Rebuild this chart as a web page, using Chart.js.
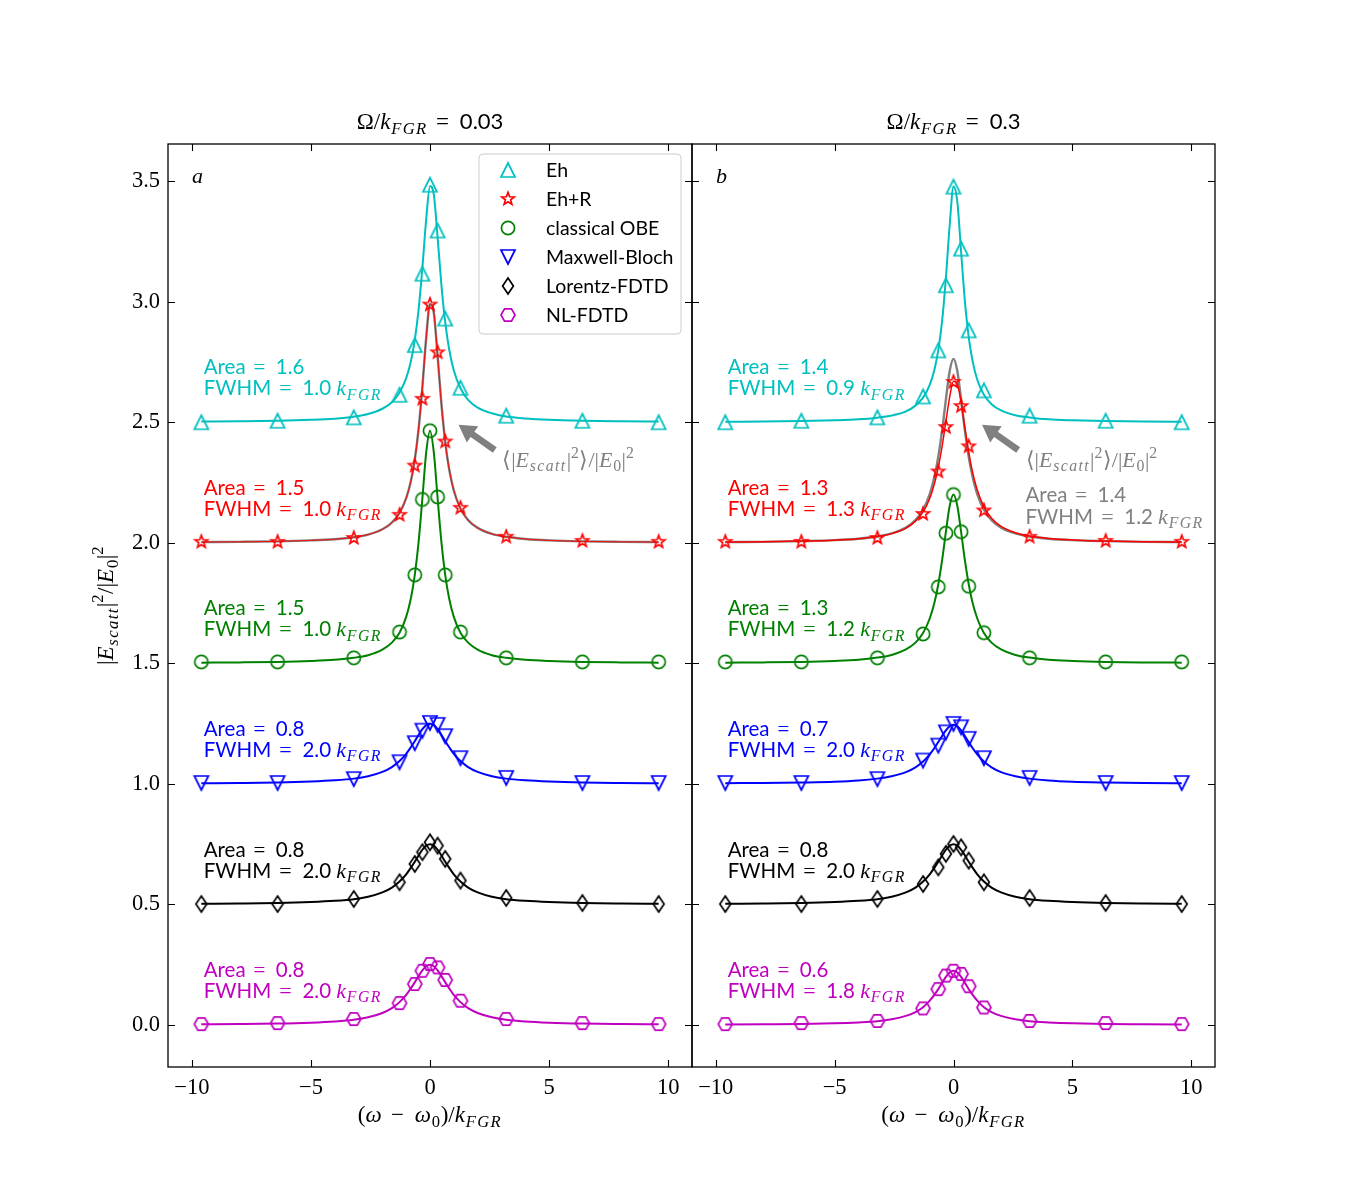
<!DOCTYPE html>
<html><head><meta charset="utf-8">
<script src="https://cdn.jsdelivr.net/npm/chart.js@4.4.0/dist/chart.umd.min.js"></script>
<style>
html,body{margin:0;padding:0;background:#fff;}
#wrap{position:relative;width:1350px;height:1200px;}
canvas{position:absolute;left:0;top:0;}
</style></head><body>
<div id="wrap"><canvas id="cA" width="1350" height="1200"></canvas><canvas id="cB" width="1350" height="1200"></canvas></div>
<script>
// ---------- data ----------
const xTicks = [-10, -5, 0, 5, 10];
const yTicks = [0, 0.5, 1, 1.5, 2, 2.5, 3, 3.5];
const legendLabels = ['Eh', 'Eh+R', 'classical OBE', 'Maxwell-Bloch', 'Lorentz-FDTD', 'NL-FDTD'];

// marker abscissae
const xMark = [-9.6, -6.4, -3.2, -1.28, -0.64, -0.32, 0, 0.32, 0.64, 1.28, 3.2, 6.4, 9.6];
// panel a markers
const mkEhA  = [2.50, 2.506, 2.52, 2.614, 2.82, 3.116, 3.485, 3.295, 2.93, 2.643, 2.527, 2.506, 2.50];
const mkEhRA = [2.004, 2.004, 2.02, 2.116, 2.32, 2.597, 2.988, 2.79, 2.42, 2.145, 2.025, 2.008, 2.004];
const mkOBEA = [1.506, 1.506, 1.523, 1.63, 1.867, 2.18, 2.465, 2.19, 1.867, 1.63, 1.523, 1.506, 1.506];
const mkMBA  = [1.004, 1.004, 1.02, 1.09, 1.169, 1.221, 1.253, 1.245, 1.198, 1.107, 1.025, 1.004, 1.004];
const mkLFA  = [0.502, 0.502, 0.523, 0.592, 0.668, 0.717, 0.758, 0.744, 0.689, 0.599, 0.527, 0.506, 0.502];
const mkNLA  = [0.004, 0.008, 0.025, 0.091, 0.17, 0.225, 0.253, 0.239, 0.187, 0.101, 0.025, 0.008, 0.004];
// panel b markers
const mkEhB  = [2.50, 2.506, 2.52, 2.607, 2.798, 3.068, 3.477, 3.22, 2.881, 2.632, 2.527, 2.506, 2.50];
const mkEhRB = [2.004, 2.004, 2.02, 2.12, 2.296, 2.48, 2.667, 2.567, 2.40, 2.134, 2.025, 2.008, 2.004];
const mkOBEB = [1.506, 1.506, 1.523, 1.622, 1.817, 2.04, 2.2, 2.046, 1.82, 1.627, 1.523, 1.506, 1.506];
const mkMBB  = [1.004, 1.004, 1.02, 1.097, 1.159, 1.214, 1.249, 1.235, 1.187, 1.107, 1.025, 1.004, 1.004];
const mkLFB  = [0.502, 0.502, 0.523, 0.585, 0.654, 0.71, 0.751, 0.737, 0.682, 0.592, 0.527, 0.506, 0.502];
const mkNLB  = [0.004, 0.008, 0.017, 0.069, 0.149, 0.205, 0.225, 0.212, 0.161, 0.073, 0.017, 0.008, 0.004];

// curve abscissae
const xLine = [-9.6,-8,-6.4,-5,-4,-3.2,-2.6,-2,-1.6,-1.28,-1,-0.8,-0.64,-0.48,-0.32,-0.16,0,0.16,0.32,0.48,0.64,0.8,1,1.28,1.6,2,2.6,3.2,4,5,6.4,8,9.6];
// panel a curves
const lnEhA  = [2.503,2.504,2.506,2.510,2.515,2.523,2.534,2.556,2.583,2.623,2.683,2.754,2.841,2.966,3.140,3.342,3.480,3.444,3.266,3.069,2.914,2.805,2.715,2.641,2.593,2.561,2.537,2.524,2.516,2.510,2.506,2.504,2.503];
const lnEhRA = [2.003,2.004,2.006,2.010,2.015,2.023,2.034,2.056,2.084,2.124,2.185,2.257,2.344,2.471,2.646,2.850,2.990,2.954,2.774,2.575,2.418,2.308,2.217,2.142,2.094,2.062,2.037,2.025,2.016,2.010,2.006,2.004,2.003];
const lnAvgA = [2.003,2.004,2.006,2.010,2.015,2.023,2.034,2.056,2.084,2.124,2.185,2.257,2.344,2.471,2.646,2.850,2.990,2.954,2.774,2.575,2.418,2.308,2.217,2.142,2.094,2.062,2.037,2.025,2.016,2.010,2.006,2.004,2.003];
const lnOBEA = [1.503,1.504,1.506,1.510,1.515,1.523,1.534,1.557,1.586,1.627,1.693,1.771,1.866,2.002,2.184,2.375,2.465,2.375,2.184,2.002,1.866,1.771,1.693,1.627,1.586,1.557,1.534,1.523,1.515,1.510,1.506,1.504,1.503];
const lnMBA  = [1.003,1.004,1.006,1.010,1.015,1.022,1.032,1.050,1.070,1.095,1.125,1.153,1.177,1.203,1.227,1.244,1.250,1.244,1.227,1.203,1.177,1.153,1.125,1.095,1.070,1.050,1.032,1.022,1.015,1.010,1.006,1.004,1.003];
const lnLFA  = [0.503,0.504,0.506,0.510,0.515,0.522,0.532,0.550,0.570,0.595,0.625,0.653,0.677,0.703,0.727,0.744,0.750,0.744,0.727,0.703,0.677,0.653,0.625,0.595,0.570,0.550,0.532,0.522,0.515,0.510,0.506,0.504,0.503];
const lnNLA  = [0.003,0.004,0.006,0.010,0.015,0.022,0.032,0.050,0.070,0.095,0.125,0.153,0.177,0.203,0.227,0.244,0.250,0.244,0.227,0.203,0.177,0.153,0.125,0.095,0.070,0.050,0.032,0.022,0.015,0.010,0.006,0.004,0.003];
// panel b curves
const lnEhB  = [2.502,2.503,2.505,2.508,2.512,2.519,2.528,2.545,2.569,2.602,2.655,2.719,2.799,2.919,3.098,3.318,3.478,3.415,3.207,3.001,2.853,2.755,2.676,2.614,2.575,2.549,2.529,2.520,2.512,2.508,2.505,2.503,2.502];
const lnEhRB = [2.003,2.004,2.007,2.011,2.017,2.026,2.038,2.061,2.090,2.128,2.184,2.246,2.313,2.400,2.503,2.605,2.670,2.659,2.582,2.477,2.376,2.294,2.219,2.149,2.102,2.068,2.042,2.028,2.018,2.012,2.007,2.004,2.003];
const lnAvgB = [2.003,2.004,2.007,2.011,2.017,2.026,2.039,2.063,2.094,2.137,2.202,2.275,2.357,2.465,2.594,2.713,2.763,2.713,2.594,2.465,2.357,2.275,2.202,2.137,2.094,2.063,2.039,2.026,2.017,2.011,2.007,2.004,2.003];
const lnOBEB = [1.503,1.504,1.506,1.510,1.515,1.524,1.535,1.558,1.586,1.626,1.686,1.752,1.828,1.927,2.045,2.154,2.200,2.154,2.045,1.927,1.828,1.752,1.686,1.626,1.586,1.558,1.535,1.524,1.515,1.510,1.506,1.504,1.503];
const lnMBB  = [1.003,1.004,1.006,1.009,1.014,1.022,1.032,1.049,1.069,1.093,1.123,1.149,1.174,1.199,1.222,1.239,1.245,1.239,1.222,1.199,1.174,1.149,1.123,1.093,1.069,1.049,1.032,1.022,1.014,1.009,1.006,1.004,1.003];
const lnLFB  = [0.503,0.504,0.506,0.510,0.515,0.522,0.532,0.550,0.570,0.595,0.625,0.653,0.677,0.703,0.727,0.744,0.750,0.744,0.727,0.703,0.677,0.653,0.625,0.595,0.570,0.550,0.532,0.522,0.515,0.510,0.506,0.504,0.503];
const lnNLB  = [0.002,0.003,0.004,0.007,0.011,0.016,0.024,0.038,0.054,0.074,0.101,0.126,0.149,0.175,0.200,0.218,0.225,0.218,0.200,0.175,0.149,0.126,0.101,0.074,0.054,0.038,0.024,0.016,0.011,0.007,0.004,0.003,0.002];

// annotation values
const baseLevels = [2.5, 2.0, 1.5, 1.0, 0.5, 0.0];
const areaA = ['1.6', '1.5', '1.5', '0.8', '0.8', '0.8'];
const fwhmA = ['1.0', '1.0', '1.0', '2.0', '2.0', '2.0'];
const areaB = ['1.4', '1.3', '1.3', '0.7', '0.8', '0.6'];
const fwhmB = ['0.9', '1.3', '1.2', '2.0', '2.0', '1.8'];
const avgAreaB = '1.4', avgFwhmB = '1.2';

// ---------- styles ----------
const COL = ['#00bfbf', '#ff0000', '#008000', '#0000ff', '#000000', '#bf00bf'];
const GRAY = '#808080';
const SHAPES = ['tu', 'star', 'circ', 'td', 'dia', 'hex'];
const SANS = 'Lato', SERIF = '"Liberation Serif"';

function markerCanvas(shape, color) {
  const S = 24, c = document.createElement('canvas');
  c.width = S; c.height = S;
  const g = c.getContext('2d');
  g.strokeStyle = color; g.lineWidth = 1.7; g.lineJoin = 'miter';
  const m = S / 2;
  g.beginPath();
  if (shape === 'tu') { const r = 7; g.moveTo(m, m - r); g.lineTo(m + r, m + r); g.lineTo(m - r, m + r); g.closePath(); }
  else if (shape === 'td') { const r = 7; g.moveTo(m, m + r); g.lineTo(m + r, m - r); g.lineTo(m - r, m - r); g.closePath(); }
  else if (shape === 'circ') { g.arc(m, m, 6.6, 0, Math.PI * 2); }
  else if (shape === 'dia') { g.moveTo(m, m - 8); g.lineTo(m + 5.4, m); g.lineTo(m, m + 8); g.lineTo(m - 5.4, m); g.closePath(); }
  else if (shape === 'hex') { const r = 7; for (let i = 0; i < 6; i++) { const a = Math.PI / 3 * i; const px = m + r * Math.cos(a), py = m + r * Math.sin(a); i ? g.lineTo(px, py) : g.moveTo(px, py); } g.closePath(); }
  else if (shape === 'star') { const R = 6.6, r = R * 0.42; for (let i = 0; i < 10; i++) { const a = -Math.PI / 2 + Math.PI / 5 * i; const rr = i % 2 ? r : R; const px = m + rr * Math.cos(a), py = m + rr * Math.sin(a); i ? g.lineTo(px, py) : g.moveTo(px, py); } g.closePath(); }
  g.stroke();
  return c;
}
const MARKERS = SHAPES.map((s, i) => markerCanvas(s, COL[i]));

// rich text: style codes -> font / baseline shift / letter spacing
function segStyle(st, S, T) {
  const sm = Math.round(S * 0.72 * 10) / 10;
  switch (st) {
    case 's':  return { font: T + 'px ' + SANS, dy: 0, ls: 0 };
    case 'r':  return { font: S + 'px ' + SERIF, dy: 0, ls: 0 };
    case 'e':  return { font: S + 'px ' + SERIF, dy: 0, ls: 2.6 };
    case 'i':  return { font: 'italic ' + S + 'px ' + SERIF, dy: 0, ls: 0.8 };
    case 'is': return { font: 'italic ' + sm + 'px ' + SERIF, dy: S * 0.2, ls: 1.4 };
    case 'rs': return { font: sm + 'px ' + SERIF, dy: S * 0.2, ls: 0.5 };
    case 'rp': return { font: sm + 'px ' + SERIF, dy: -S * 0.42, ls: 0.5 };
  }
}
function segWidth(ctx, t, s) { ctx.font = s.font; if (!s.ls) return ctx.measureText(t).width; let w = 0; for (const ch of t) w += ctx.measureText(ch).width + s.ls; return w; }
function drawRich(ctx, segs, x, y, align, S, color, T) {
  T = T || 21;
  ctx.save(); ctx.fillStyle = color; ctx.textBaseline = 'alphabetic'; ctx.textAlign = 'left';
  let w = 0;
  for (const [t, st] of segs) w += segWidth(ctx, t, segStyle(st, S, T));
  let cx = align === 'center' ? x - w / 2 : (align === 'right' ? x - w : x);
  for (const [t, st] of segs) {
    const s = segStyle(st, S, T); ctx.font = s.font;
    if (!s.ls) { ctx.fillText(t, cx, y + s.dy); cx += ctx.measureText(t).width; }
    else { for (const ch of t) { ctx.fillText(ch, cx, y + s.dy); cx += ctx.measureText(ch).width + s.ls; } }
  }
  ctx.restore();
}
function drawArrow(ctx, x1, y1, x2, y2) {
  const dx = x2 - x1, dy = y2 - y1, L = Math.hypot(dx, dy), ux = dx / L, uy = dy / L, px = -uy, py = ux;
  const hl = 17, hw = 10, sw = 3.3;
  const bx = x2 - ux * hl, by = y2 - uy * hl;
  ctx.save(); ctx.fillStyle = GRAY;
  ctx.beginPath();
  ctx.moveTo(x1 + px * sw, y1 + py * sw); ctx.lineTo(bx + px * sw, by + py * sw);
  ctx.lineTo(bx + px * hw, by + py * hw); ctx.lineTo(x2, y2);
  ctx.lineTo(bx - px * hw, by - py * hw); ctx.lineTo(bx - px * sw, by - py * sw);
  ctx.lineTo(x1 - px * sw, y1 - py * sw); ctx.closePath(); ctx.fill();
  ctx.restore();
}

const avgLabel = [['⟨|', 'r'], ['E', 'i'], ['scatt', 'is'], ['|', 'r'], ['2', 'rp'], ['⟩/|', 'r'], ['E', 'i'], ['0', 'rs'], ['|', 'r'], ['2', 'rp']];
const kFGR = [['k', 'i'], ['FGR', 'is']];

function decoPlugin(P) {
  return {
    id: 'deco',
    afterDraw(chart) {
      const ctx = chart.ctx, a = chart.chartArea, xs = chart.scales.x, ys = chart.scales.y;
      ctx.save();
      // frame
      ctx.strokeStyle = '#000'; ctx.lineWidth = 1.3;
      ctx.strokeRect(a.left, a.top, a.right - a.left, a.bottom - a.top);
      // inward ticks
      ctx.lineWidth = 1.1; ctx.beginPath();
      for (const t of xs.ticks) { const px = Math.round(xs.getPixelForValue(t.value)) + 0.5; ctx.moveTo(px, a.bottom); ctx.lineTo(px, a.bottom - 7); ctx.moveTo(px, a.top); ctx.lineTo(px, a.top + 7); }
      for (const t of ys.ticks) { const py = Math.round(ys.getPixelForValue(t.value)) + 0.5; ctx.moveTo(a.left, py); ctx.lineTo(a.left + 7, py); ctx.moveTo(a.right, py); ctx.lineTo(a.right - 7, py); }
      ctx.stroke();
      const cxm = (a.left + a.right) / 2;
      // title
      drawRich(ctx, [['Ω/', 'r'], ...kFGR, [' = ', 'e'], [P.omega, 's']], cxm, a.top - 15, 'center', 23, '#000', 22);
      // x label
      drawRich(ctx, [['(', 'r'], ['ω', 'i'], [' − ', 'e'], ['ω', 'i'], ['0', 'rs'], [')/', 'r'], ...kFGR], cxm, a.bottom + 55, 'center', 23, '#000');
      // y label
      if (P.yLabel) {
        ctx.save(); ctx.translate(a.left - 55, (a.top + a.bottom) / 2); ctx.rotate(-Math.PI / 2);
        drawRich(ctx, [['|', 'r'], ['E', 'i'], ['scatt', 'is'], ['|', 'r'], ['2', 'rp'], ['/|', 'r'], ['E', 'i'], ['0', 'rs'], ['|', 'r'], ['2', 'rp']], 0, 0, 'center', 23, '#000');
        ctx.restore();
      }
      // panel letter
      drawRich(ctx, [[P.letter, 'i']], a.left + 24, a.top + 39, 'left', 22, '#000');
      // area / FWHM labels
      const tx = xs.getPixelForValue(-9.5);
      for (let i = 0; i < 6; i++) {
        const y1 = ys.getPixelForValue(baseLevels[i] + 0.23), y2 = ys.getPixelForValue(baseLevels[i] + 0.143);
        drawRich(ctx, [['Area', 's'], [' = ', 'e'], [P.area[i], 's']], tx, y1 + 7.5, 'left', 21, COL[i], 20.5);
        drawRich(ctx, [['FWHM', 's'], [' = ', 'e'], [P.fwhm[i] + ' ', 's'], ...kFGR], tx, y2 + 7.5, 'left', 22, COL[i], 20.5);
      }
      // average arrow + label
      drawArrow(ctx, xs.getPixelForValue(2.72), ys.getPixelForValue(2.385), xs.getPixelForValue(1.2), ys.getPixelForValue(2.49));
      const gx = xs.getPixelForValue(3.03);
      drawRich(ctx, avgLabel, gx, ys.getPixelForValue(2.344) + 7, 'left', 22, GRAY);
      if (P.avgArea) {
        drawRich(ctx, [['Area', 's'], [' = ', 'e'], [P.avgArea, 's']], gx, ys.getPixelForValue(2.2) + 7.5, 'left', 21, GRAY, 20.5);
        drawRich(ctx, [['FWHM', 's'], [' = ', 'e'], [P.avgFwhm + ' ', 's'], ...kFGR], gx, ys.getPixelForValue(2.11) + 7.5, 'left', 22, GRAY, 20.5);
      }
      // legend
      if (P.legend) {
        const L = a.right - 213, T = a.top + 10, W = 202, H = 180, r = 4;
        ctx.save();
        ctx.beginPath();
        ctx.moveTo(L + r, T); ctx.lineTo(L + W - r, T); ctx.quadraticCurveTo(L + W, T, L + W, T + r);
        ctx.lineTo(L + W, T + H - r); ctx.quadraticCurveTo(L + W, T + H, L + W - r, T + H);
        ctx.lineTo(L + r, T + H); ctx.quadraticCurveTo(L, T + H, L, T + H - r);
        ctx.lineTo(L, T + r); ctx.quadraticCurveTo(L, T, L + r, T); ctx.closePath();
        ctx.fillStyle = 'rgba(255,255,255,0.8)'; ctx.fill();
        ctx.strokeStyle = '#cccccc'; ctx.lineWidth = 1; ctx.stroke();
        ctx.restore();
        for (let i = 0; i < 6; i++) {
          const yy = T + 16 + 29 * i;
          const m = MARKERS[i];
          ctx.drawImage(m, L + 29 - m.width / 2, yy - m.height / 2);
          ctx.fillStyle = '#000'; ctx.font = '19.5px ' + SANS; ctx.textBaseline = 'middle'; ctx.textAlign = 'left';
          ctx.fillText(legendLabels[i], L + 67, yy + 1);
        }
      }
      ctx.restore();
    }
  };
}

function pts(xa, ya) { return xa.map((x, i) => ({ x: x, y: ya[i] })); }

function makePanel(id, P) {
  const ds = [];
  P.marks.forEach((arr, i) => ds.push({ data: pts(xMark, arr), showLine: false, pointStyle: MARKERS[i], pointRadius: 6, pointHoverRadius: 6, order: 0 }));
  ds.push({ data: pts(xLine, P.lines[1]), showLine: true, borderColor: COL[1], borderWidth: P.redW, pointRadius: 0, cubicInterpolationMode: 'monotone', order: 1 });
  ds.push({ data: pts(xLine, P.avg), showLine: true, borderColor: GRAY, borderWidth: 2.4, pointRadius: 0, cubicInterpolationMode: 'monotone', order: 2 });
  [0, 2, 3, 4, 5].forEach(i => ds.push({ data: pts(xLine, P.lines[i]), showLine: true, borderColor: COL[i], borderWidth: 2, pointRadius: 0, cubicInterpolationMode: 'monotone', order: 3 }));
  return new Chart(document.getElementById(id), {
    type: 'scatter',
    data: { datasets: ds },
    options: {
      responsive: false, animation: false, events: [],
      layout: { padding: P.pad },
      plugins: { legend: { display: false }, tooltip: { enabled: false }, title: { display: false } },
      scales: {
        x: {
          type: 'linear', min: -11, max: 11,
          afterBuildTicks: s => { s.ticks = xTicks.map(v => ({ value: v })); },
          afterFit: s => { s.height = 40; },
          grid: { display: false, drawTicks: false }, border: { display: false },
          ticks: { padding: 8, autoSkip: false, maxRotation: 0, color: '#000', font: { family: 'Liberation Serif', size: 22.5 },
            callback: v => (v < 0 ? '\u2212' + Math.abs(v) : String(v)) }
        },
        y: {
          type: 'linear', min: -0.174, max: 3.654,
          afterBuildTicks: s => { s.ticks = yTicks.map(v => ({ value: v })); },
          afterFit: s => { s.width = P.yw; },
          grid: { display: false, drawTicks: false }, border: { display: false },
          ticks: { display: P.yLabel, padding: 8, color: '#000', font: { family: 'Liberation Serif', size: 22.5 },
            callback: v => Number(v).toFixed(1) }
        }
      }
    },
    plugins: [decoPlugin(P)]
  });
}

makePanel('cA', {
  marks: [mkEhA, mkEhRA, mkOBEA, mkMBA, mkLFA, mkNLA],
  lines: [lnEhA, lnEhRA, lnOBEA, lnMBA, lnLFA, lnNLA], avg: lnAvgA, redW: 0.9,
  area: areaA, fwhm: fwhmA, omega: '0.03', letter: 'a', legend: true, yLabel: true, yw: 60,
  pad: { left: 108, right: 658, top: 144, bottom: 93 }
});
makePanel('cB', {
  marks: [mkEhB, mkEhRB, mkOBEB, mkMBB, mkLFB, mkNLB],
  lines: [lnEhB, lnEhRB, lnOBEB, lnMBB, lnLFB, lnNLB], avg: lnAvgB, redW: 1.5,
  area: areaB, fwhm: fwhmB, omega: '0.3', letter: 'b', legend: false, yLabel: false, yw: 0,
  avgArea: avgAreaB, avgFwhm: avgFwhmB,
  pad: { left: 692, right: 135, top: 144, bottom: 93 }
});
</script>
</body></html>
